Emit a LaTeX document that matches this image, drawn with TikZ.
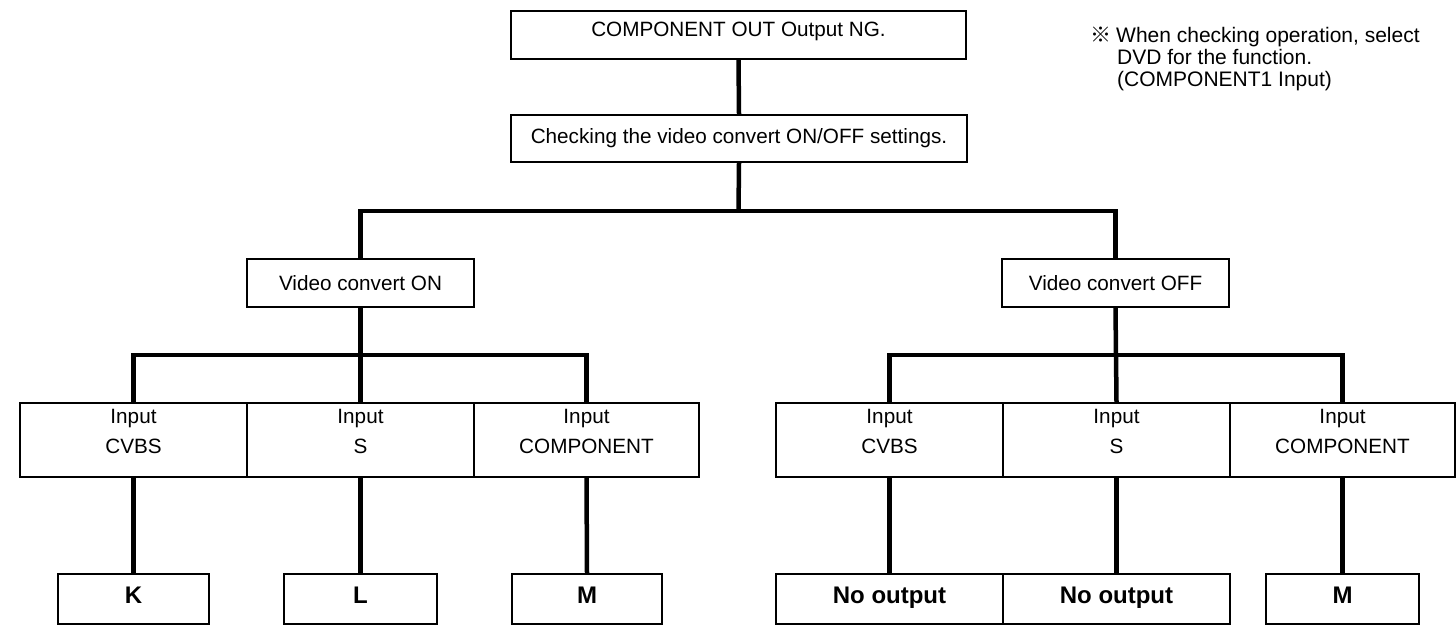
\documentclass[tikz,border=0pt]{standalone}
\usepackage{fontspec}
\setmainfont{Liberation Sans}
\newfontfamily\cjkfont{Noto Sans CJK JP}
\newcommand{\lowpad}{\rule[-17pt]{0pt}{0pt}}
\begin{document}
\begin{tikzpicture}[x=1pt,y=-1pt,
  line join=miter,
  box/.style={draw, line width=2pt, inner sep=0pt, align=center,
    font=\fontsize{20.7}{30}\selectfont},
  outbox/.style={draw, line width=2pt, inner sep=0pt, align=center,
    minimum height=50pt, text height=17pt, text depth=9pt,
    font=\fontsize{24}{26}\selectfont\bfseries},
  conn/.style={line width=4.5pt},
  notetext/.style={anchor=base west, inner sep=0pt,
    font=\fontsize{21}{22}\selectfont}
]
\useasboundingbox[fill=white] (0,0) rectangle (1456,634);

% top chain
\node[box, minimum width=455pt, minimum height=48pt, text height=15pt, text depth=11pt] (top) at (738.5,35) {COMPONENT OUT Output NG.};
\node[box, minimum width=456pt, minimum height=47pt] (check) at (739,138.5) {Checking the video convert ON/OFF settings.};
\node[box, minimum width=227pt, minimum height=48pt] (on) at (360.5,283) {Video convert ON};
\node[box, minimum width=227pt, minimum height=48pt] (off) at (1115.5,283) {Video convert OFF};

% input rows
\node[box, minimum width=227pt, minimum height=74pt] (in1) at (133.5,440) {Input\\CVBS\lowpad};
\node[box, minimum width=227pt, minimum height=74pt] (in2) at (360.5,440) {Input\\S\lowpad};
\node[box, minimum width=225pt, minimum height=74pt] (in3) at (586.5,440) {Input\\COMPONENT\lowpad};
\node[box, minimum width=227pt, minimum height=74pt] (in4) at (889.5,440) {Input\\CVBS\lowpad};
\node[box, minimum width=227pt, minimum height=74pt] (in5) at (1116.5,440) {Input\\S\lowpad};
\node[box, minimum width=225pt, minimum height=74pt] (in6) at (1342.5,440) {Input\\COMPONENT\lowpad};

% outputs
\node[outbox, minimum width=151pt] (K) at (133.5,599) {K};
\node[outbox, minimum width=153pt] (L) at (360.5,599) {L};
\node[outbox, line width=1.2pt, minimum width=150pt] (M1) at (587,599) {M};
\node[outbox, minimum width=227pt] (no1) at (889.5,599) {No output};
\node[outbox, minimum width=227pt] (no2) at (1116.5,599) {No output};
\node[outbox, minimum width=153pt] (M2) at (1342.5,599) {M};

% note
\node[notetext] (note1) at (1090,42.5) {{\cjkfont ※}\hspace{5pt}When checking operation, select};
\node[notetext] (note2) at (1117,64.5) {DVD for the function.};
\node[notetext] (note3) at (1117,86.5) {(COMPONENT1 Input)};

% connectors
\coordinate (bar1) at (738.5,211);
\coordinate (bar2) at (360.5,355);
\coordinate (bar3) at (1116.5,355);
\draw[conn] (top.south) -- (check.north);
\draw[conn] (check.south) -- (bar1);
\draw[conn] (on.north) |- (bar1) -| (off.north);
\draw[conn] (on.south) -- (in2.north);
\draw[conn] (in1.north) |- (bar2) -| (in3.north);
\draw[conn] (off.south) -- (in5.north);
\draw[conn] (in4.north) |- (bar3) -| (in6.north);
\draw[conn] (in1.south) -- (K.north);
\draw[conn] (in2.south) -- (L.north);
\draw[conn] (in3.south) -- (M1.north);
\draw[conn] (in4.south) -- (no1.north);
\draw[conn] (in5.south) -- (no2.north);
\draw[conn] (in6.south) -- (M2.north);
\end{tikzpicture}
\end{document}
